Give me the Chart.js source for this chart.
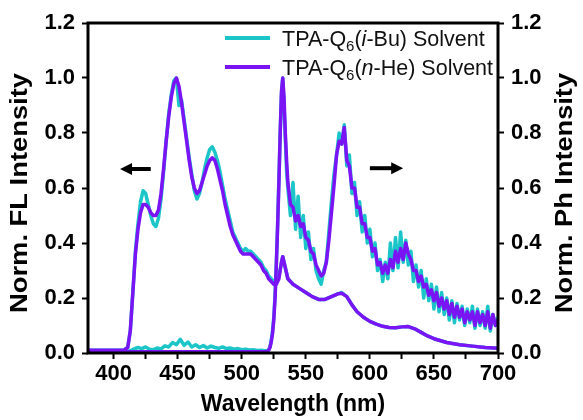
<!DOCTYPE html>
<html>
<head>
<meta charset="utf-8">
<script src="https://cdn.jsdelivr.net/npm/chart.js@4"></script>
<style>
  html, body { margin: 0; padding: 0; background: #fff; }
  #wrap { width: 583px; height: 420px; }
</style>
</head>
<body>
<div id="wrap"><canvas id="myChart" width="583" height="420"></canvas></div>
<script>
const cyan = '#1cc6c8';
const purple = '#7a14f5';

// fluorescence spectra (left axis)
const flWl = [380,390,400,408, 411,413,415,417,419, 421,423,425,427,429, 431,433,435,437,439,
  441,443,445,447,449, 451,453,455,457,459, 461,463,465,467,469, 471,473,475,477,479,
  481,483,485,487,489, 491,493,495,497,499, 501,503,505,507,509, 511,513,515,517,519,
  521,523,525,527,529, 531,532,534,536,538, 540,545,550,555,560, 565,570,575,578,582,
  586,590,595,600,605, 610,615,620,625,630, 635,640,645,650,660, 670,680,690,700];
const flIBu = [0.01,0.01,0.01,0.01, 0.02,0.08,0.22,0.37,0.47, 0.55,0.59,0.58,0.54,0.50,
  0.47,0.46,0.49,0.56,0.66, 0.77,0.87,0.94,0.99,1.0, 0.90,0.92,0.85,0.78,0.71,
  0.65,0.59,0.56,0.58,0.62, 0.67,0.71,0.74,0.75,0.73, 0.70,0.66,0.61,0.56,0.52,
  0.48,0.44,0.42,0.40,0.38, 0.37,0.38,0.37,0.37,0.36, 0.35,0.34,0.33,0.31,0.30,
  0.28,0.27,0.26,0.26,0.28, 0.33,0.35,0.31,0.27,0.26, 0.25,0.235,0.22,0.205,0.195,
  0.195,0.205,0.215,0.22,0.205, 0.175,0.15,0.13,0.115,0.105, 0.097,0.093,0.092,0.095,0.096,
  0.088,0.075,0.062,0.052,0.038, 0.03,0.025,0.02,0.017];
const flNHe = [0.01,0.01,0.01,0.01, 0.02,0.08,0.22,0.36,0.45, 0.51,0.54,0.54,0.53,0.51,
  0.50,0.50,0.52,0.58,0.67, 0.77,0.86,0.93,0.98,1.0, 0.97,0.91,0.84,0.77,0.70,
  0.64,0.60,0.58,0.59,0.62, 0.65,0.68,0.70,0.71,0.70, 0.67,0.63,0.59,0.54,0.50,
  0.46,0.43,0.41,0.39,0.37, 0.36,0.36,0.36,0.36,0.35, 0.34,0.33,0.32,0.30,0.29,
  0.27,0.26,0.25,0.25,0.27, 0.33,0.35,0.31,0.27,0.26, 0.25,0.235,0.22,0.205,0.195,
  0.195,0.205,0.215,0.217,0.205, 0.175,0.15,0.13,0.115,0.105, 0.097,0.093,0.092,0.095,0.096,
  0.088,0.075,0.062,0.052,0.038, 0.03,0.025,0.02,0.017];

// phosphorescence spectra (right axis)
const phWl = [380,390,400,410,413,416,419,422,425,428, 431,434,437,440,443,446,449,452,455,458,
  461,464,467,470,473,476,479,482,485,488, 491,494,497,500,503,506,509,512,515,518, 520,
  521,522,523,524,525,526,527,528,529,530,531,532,533,534,535,
  536,538,540,542,544,546,548,550,552,554, 556,558,560,562,564,566,568,570,572,574,
  576,578,580,582,584,586,588,590,592,594, 596,598,600,602,604,606,608,610,612,614,
  616,618,620,622,624,626,628,630,632,634, 636,638,640,642,644,646,648,650,652,654,
  656,658,660,662,664,666,668,670,672,674, 676,678,680,682,684,686,688,690,692,694,
  696,698,700];
const phIBu = [0.005,0.005,0.004,0.005,0.008,0.015,0.02,0.016,0.022,0.014,
  0.012,0.018,0.015,0.026,0.022,0.038,0.03,0.05,0.028,0.04,
  0.022,0.03,0.02,0.027,0.018,0.025,0.02,0.017,0.022,0.016,
  0.018,0.014,0.016,0.012,0.014,0.011,0.012,0.009,0.01,0.008, 0.008,
  0.012,0.022,0.045,0.08,0.13,0.21,0.33,0.47,0.63,0.8,0.94,1.0,0.9,0.78,0.66,
  0.6,0.5,0.62,0.45,0.57,0.42,0.5,0.38,0.44,0.34, 0.38,0.3,0.27,0.25,0.3,0.33,0.44,0.55,0.65,0.72,
  0.8,0.76,0.83,0.68,0.72,0.58,0.62,0.5,0.55,0.44, 0.5,0.4,0.45,0.35,0.4,0.3,0.34,0.26,0.33,0.27,
  0.4,0.3,0.42,0.31,0.44,0.33,0.41,0.32,0.37,0.26, 0.32,0.24,0.3,0.2,0.27,0.19,0.25,0.16,0.24,0.15,
  0.22,0.14,0.2,0.12,0.19,0.11,0.18,0.12,0.17,0.1, 0.16,0.11,0.17,0.09,0.16,0.1,0.15,0.09,0.17,0.08,
  0.14,0.1,0.13];
const phNHe = [0.008,0.006,0.005,0.005,0.005,0.005,0.005,0.005,0.005,0.005,
  0.005,0.005,0.005,0.005,0.005,0.005,0.005,0.005,0.005,0.005,
  0.005,0.005,0.005,0.005,0.005,0.005,0.005,0.005,0.005,0.005,
  0.005,0.005,0.005,0.005,0.005,0.005,0.005,0.005,0.005,0.005, 0.006,
  0.01,0.02,0.04,0.07,0.12,0.2,0.32,0.46,0.62,0.8,0.95,1.0,0.93,0.8,0.7,
  0.62,0.54,0.53,0.48,0.5,0.46,0.47,0.42,0.41,0.37, 0.36,0.32,0.3,0.28,0.29,0.33,0.41,0.51,0.61,0.72,
  0.77,0.76,0.82,0.7,0.68,0.6,0.6,0.53,0.53,0.47, 0.47,0.42,0.42,0.37,0.38,0.32,0.33,0.29,0.32,0.29,
  0.34,0.31,0.37,0.33,0.38,0.34,0.4,0.36,0.34,0.3, 0.3,0.26,0.28,0.24,0.25,0.21,0.23,0.19,0.22,0.17,
  0.2,0.16,0.19,0.14,0.18,0.13,0.17,0.13,0.16,0.11, 0.15,0.12,0.15,0.1,0.15,0.11,0.14,0.1,0.15,0.09,
  0.14,0.1,0.12];

const xTicks = [400,425,450,475,500,525,550,575,600,625,650,675,700];
const yTicks = [0,0.2,0.4,0.6,0.8,1.0,1.2];

const pts = (xs, ys) => xs.map((x, i) => ({x: x, y: ys[i]}));
const FONT = '"Liberation Sans", Arial, sans-serif';
Chart.defaults.font.family = FONT;
Chart.defaults.color = '#000';

// frame, arrows, legend and y titles
const extras = {
  id: 'extras',
  afterDraw(chart) {
    const {ctx, chartArea: a, scales} = chart;
    ctx.save();
    ctx.strokeStyle = '#000';
    ctx.lineWidth = 3;
    ctx.strokeRect(a.left, a.top, a.right - a.left, a.bottom - a.top);

    // arrows
    const arrow = (x0, x1, yv) => {
      const px0 = scales.x.getPixelForValue(x0), px1 = scales.x.getPixelForValue(x1);
      const py = scales.y.getPixelForValue(yv);
      const dir = Math.sign(px1 - px0);
      ctx.fillStyle = '#000';
      ctx.strokeStyle = '#000';
      ctx.lineWidth = 4;
      ctx.beginPath();
      ctx.moveTo(px0, py);
      ctx.lineTo(px1 - dir * 8, py);
      ctx.stroke();
      ctx.beginPath();
      ctx.moveTo(px1, py);
      ctx.lineTo(px1 - dir * 12, py - 6);
      ctx.lineTo(px1 - dir * 12, py + 6);
      ctx.closePath();
      ctx.fill();
    };
    arrow(429, 405, 0.669);
    arrow(600, 626, 0.672);

    // legend
    const items = [
      {color: cyan, y: 15, parts: [['TPA-Q','n'],['6','s'],['(','n'],['i','i'],['-Bu) Solvent','n']]},
      {color: purple, y: 44, parts: [['TPA-Q','n'],['6','s'],['(','n'],['n','i'],['-He) Solvent','n']]}
    ];
    items.forEach(it => {
      const y = a.top + it.y;
      let x = a.right - 273;
      ctx.strokeStyle = it.color;
      ctx.lineWidth = 4;
      ctx.beginPath();
      ctx.moveTo(x, y);
      ctx.lineTo(x + 45, y);
      ctx.stroke();
      x += 57;
      ctx.fillStyle = '#111';
      ctx.textBaseline = 'alphabetic';
      ctx.textAlign = 'left';
      it.parts.forEach(([t, k]) => {
        if (k === 's') {
          ctx.font = '15px ' + FONT;
          ctx.fillText(t, x, y + 13);
        } else {
          ctx.font = (k === 'i' ? 'italic ' : '') + '21.5px ' + FONT;
          ctx.fillText(t, x, y + 8);
        }
        x += ctx.measureText(t).width;
      });
    });

    // y axis titles, both read bottom to top
    const yTitle = (text, cx) => {
      ctx.save();
      ctx.translate(cx, 193);
      ctx.rotate(-Math.PI / 2);
      ctx.font = 'bold 23px ' + FONT;
      const w = ctx.measureText(text).width;
      ctx.scale(240 / w, 1);
      ctx.textAlign = 'center';
      ctx.textBaseline = 'middle';
      ctx.fillStyle = '#000';
      ctx.fillText(text, 0, 0);
      ctx.restore();
    };
    yTitle('Norm. FL Intensity', 21);
    yTitle('Norm. Ph Intensity', 566);
    ctx.restore();
  }
};

const tickFont = {size: 22, weight: 'bold'};
const gridOpts = {drawOnChartArea: false, drawTicks: true, tickLength: 6, tickWidth: 2, color: '#000'};
const yScale = (pos, w) => ({
  type: 'linear', position: pos, min: 0, max: 1.2,
  afterBuildTicks: s => { s.ticks = yTicks.map(v => ({value: v})); },
  afterFit: s => { s.width = w; },
  ticks: {font: tickFont, padding: 7, callback: v => v.toFixed(1)},
  grid: gridOpts,
  border: {display: false}
});

new Chart(document.getElementById('myChart'), {
  type: 'line',
  data: {
    datasets: [
      {label: 'FL n-He', data: pts(flWl, flNHe), yAxisID: 'y', borderColor: purple, order: 0},
      {label: 'Ph n-He', data: pts(phWl, phNHe), yAxisID: 'y2', borderColor: purple, order: 1},
      {label: 'FL i-Bu', data: pts(flWl, flIBu), yAxisID: 'y', borderColor: cyan, order: 2},
      {label: 'Ph i-Bu', data: pts(phWl, phIBu), yAxisID: 'y2', borderColor: cyan, order: 3}
    ]
  },
  options: {
    responsive: false,
    animation: false,
    devicePixelRatio: 1,
    layout: {padding: {top: 23, left: 0, right: 0, bottom: 2}},
    elements: {
      point: {radius: 0},
      line: {borderWidth: 3.5, tension: 0, borderJoinStyle: 'round', borderCapStyle: 'round'}
    },
    plugins: {legend: {display: false}, tooltip: {enabled: false}},
    scales: {
      x: {
        type: 'linear', min: 380, max: 700,
        afterBuildTicks: s => { s.ticks = xTicks.map(v => ({value: v})); },
        afterFit: s => { s.height = 65; },
        ticks: {font: tickFont, padding: 2, autoSkip: false, maxRotation: 0,
          callback: v => (v % 50 === 0 ? v : '')},
        grid: gridOpts,
        border: {display: false},
        title: {display: true, text: 'Wavelength (nm)', font: {size: 23, weight: 'bold'}, padding: {top: 0, bottom: 0}}
      },
      y: yScale('left', 88),
      y2: yScale('right', 85)
    }
  },
  plugins: [extras]
});
</script>
</body>
</html>
